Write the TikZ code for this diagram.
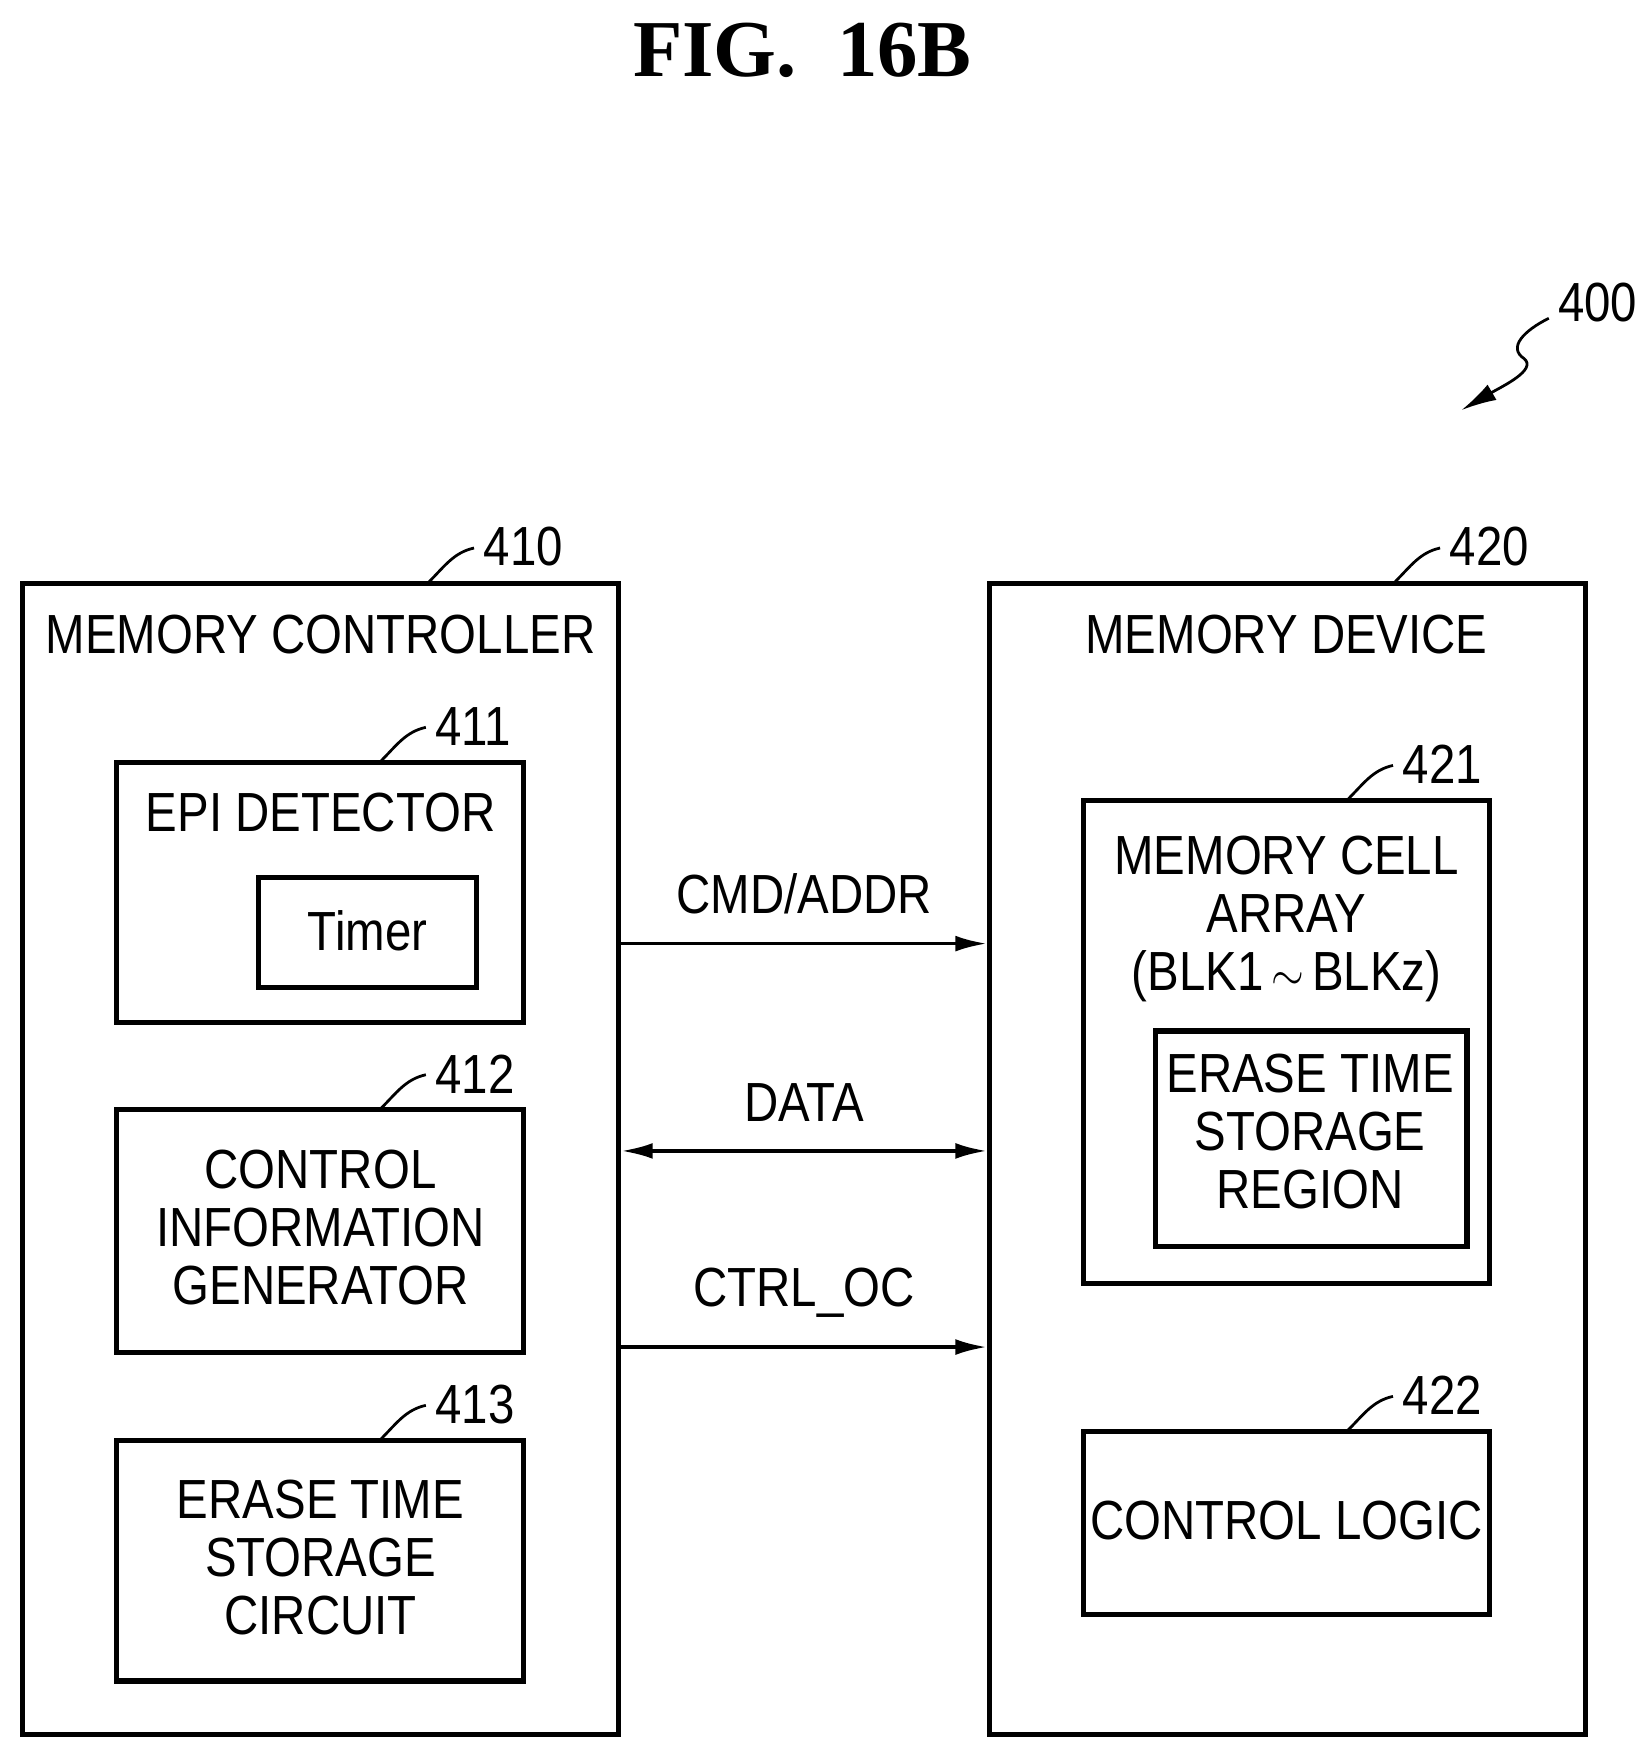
\documentclass[tikz,border=0pt]{standalone}
\usepackage{fontspec}
\setmainfont{Liberation Sans}
\newfontfamily\titlefont{Liberation Serif}
\usetikzlibrary{arrows.meta}
\begin{document}
\begin{tikzpicture}[x=0.02cm,y=-0.02cm,
  box/.style={draw,line width=2.6pt,inner sep=0pt},
  txt/.style={font=\fontsize{28}{29.5}\selectfont,align=center,inner sep=0pt,xscale=0.86,transform shape},
  lead/.style={line width=1.4pt},
  sig/.style={line width=1.8pt,-{Latex[length=16pt,width=8pt]}}]
\useasboundingbox (0,0) rectangle (1470,1558);
\node[font=\titlefont\bfseries\fontsize{41}{41}\selectfont] (title) at (716,45) {FIG.\ \ 16B};
% boxes
\node[box,minimum width=532*0.02cm,minimum height=1027*0.02cm] (mc) at (286,1034.5) {};
\node[box,minimum width=532*0.02cm,minimum height=1027*0.02cm] (md) at (1149,1034.5) {};
\node[box,minimum width=363*0.02cm,minimum height=232*0.02cm] (epi) at (285.5,796) {};
\node[box,minimum width=194*0.02cm,minimum height=98*0.02cm] (tim) at (328,832) {};
\node[box,minimum width=363*0.02cm,minimum height=217*0.02cm] (cig) at (285.5,1098.5) {};
\node[box,minimum width=363*0.02cm,minimum height=215*0.02cm] (etc) at (285.5,1392.5) {};
\node[box,minimum width=362*0.02cm,minimum height=431*0.02cm] (mca) at (1148,929.5) {};
\node[box,minimum width=278*0.02cm,minimum height=192*0.02cm] (etr) at (1170,1016) {};
\node[box,minimum width=362*0.02cm,minimum height=164*0.02cm] (cl) at (1148,1359) {};
% texts
\node[txt] (t1) at (286,566) {MEMORY CONTROLLER};
\node[txt] (t2) at (1148,566) {MEMORY DEVICE};
\node[txt] (t3) at (286,725) {EPI DETECTOR};
\node[txt] (t4) at (328,831) {Timer};
\node[txt] (t5) at (286,1095) {CONTROL\\INFORMATION\\GENERATOR};
\node[txt] (t6) at (286,1390) {ERASE TIME\\STORAGE\\CIRCUIT};
\node[txt] (t7) at (1148,820) {MEMORY CELL\\ARRAY\\(BLK1\,$\sim$\,BLKz)};
\node[txt] (t8) at (1169,1010) {ERASE TIME\\STORAGE\\REGION};
\node[txt] (t9) at (1148,1357) {CONTROL LOGIC};
% signals
\draw[sig] (mc.east |- 0,842) -- (md.west |- 0,842) node[midway,above=14pt,txt] {CMD/ADDR};
\draw[sig,{Latex[length=16pt,width=8pt]}-{Latex[length=16pt,width=8pt]}] (mc.east |- 0,1027) -- (md.west |- 0,1027) node[midway,above=14pt,txt] {DATA};
\draw[sig] (mc.east |- 0,1202) -- (md.west |- 0,1202) node[midway,above=14pt,txt] {CTRL\_OC};
% reference labels
\foreach \nm/\x/\y/\lab in {l410/383/519/410, l420/1245/519/420, l411/340/679/411, l412/340/989/412, l413/340/1284/413, l421/1203/713/421, l422/1203/1276/422}{
  \draw[lead] (\x,\y) .. controls (\x+14,\y-14) and (\x+22,\y-26) .. (\x+40,\y-30) node[txt,anchor=south west,inner sep=0pt,xshift=5pt,yshift=-10pt] (\nm) {\lab};
}
\node[txt,anchor=west] (l400) at (1390,270) {400};
\coordinate (s0) at (1382,284);
\coordinate (s1) at (1304,366);
\draw[lead,-{Latex[length=18pt,width=9pt]}] (s0) .. controls (1360,295) and (1345,310) .. (1360,320) .. controls (1372,330) and (1340,345) .. (s1);
\end{tikzpicture}
\end{document}
